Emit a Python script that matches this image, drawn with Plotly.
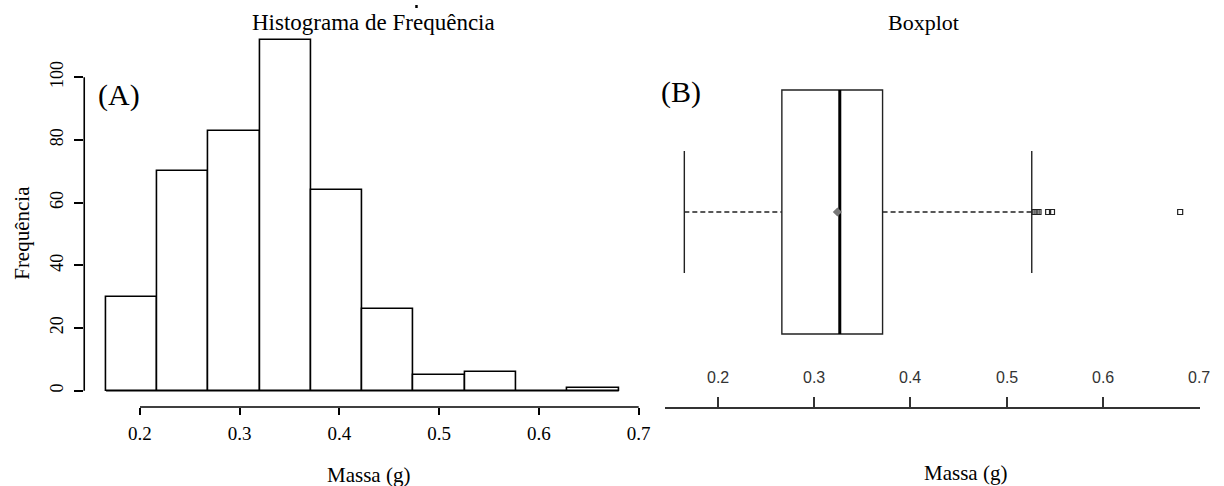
import plotly.graph_objects as go

# ---------------- data ----------------
bin_edges = [0.166, 0.2174, 0.2688, 0.3202, 0.3716, 0.423, 0.4744, 0.5258, 0.5772, 0.6286, 0.680]
bin_counts = [30, 70, 83, 112, 64, 26, 5, 6, 0, 1]

hist_xticks = [0.2, 0.3, 0.4, 0.5, 0.6, 0.7]
hist_xticklabels = ["0.2", "0.3", "0.4", "0.5", "0.6", "0.7"]
hist_yticks = [0, 20, 40, 60, 80, 100]
hist_yticklabels = ["0", "20", "40", "60", "80", "100"]

box_q1 = 0.2667
box_median = 0.3268
box_q3 = 0.3712
box_mean = 0.3243
box_lower_whisker = 0.1655
box_upper_whisker = 0.526
box_outliers = [0.529, 0.531, 0.533, 0.543, 0.547, 0.680]

box_xticks = [0.2, 0.3, 0.4, 0.5, 0.6, 0.7]
box_xticklabels = ["0.2", "0.3", "0.4", "0.5", "0.6", "0.7"]

# ---------------- figure ----------------
W, H = 1224, 486
def px(x):
    return x / W
def py(y):
    return 1 - y / H

SERIF = "Liberation Serif, Times New Roman, serif"
SANS = "Liberation Sans, Arial, sans-serif"

centers = [(a + b) / 2 for a, b in zip(bin_edges[:-1], bin_edges[1:])]
widths = [b - a for a, b in zip(bin_edges[:-1], bin_edges[1:])]

fig = go.Figure()
fig.add_trace(go.Bar(
    x=centers, y=bin_counts, width=widths,
    marker=dict(color="white", line=dict(color="black", width=1.6)),
    xaxis="x", yaxis="y", showlegend=False, hoverinfo="x+y",
))
# baseline of the histogram (bottom edges of all bins, incl. empty ones)
fig.add_trace(go.Scatter(
    x=[bin_edges[0], bin_edges[-1]], y=[0, 0], mode="lines",
    line=dict(color="black", width=1.6),
    xaxis="x", yaxis="y", showlegend=False, hoverinfo="skip",
))

BOX_POS = 1
fig.add_trace(go.Box(
    y=[BOX_POS], q1=[box_q1], median=[box_median], q3=[box_q3],
    lowerfence=[box_q1], upperfence=[box_q3],
    orientation="h", width=0.8, whiskerwidth=0, boxpoints=False,
    fillcolor="white", line=dict(color="#222222", width=1.4),
    xaxis="x2", yaxis="y2", showlegend=False,
))
# dashed whiskers
for a, b in [(box_lower_whisker, box_q1), (box_q3, box_upper_whisker)]:
    fig.add_trace(go.Scatter(
        x=[a, b], y=[BOX_POS, BOX_POS], mode="lines",
        line=dict(color="#222222", width=1.4, dash="5px,3px"),
        xaxis="x2", yaxis="y2", showlegend=False, hoverinfo="skip",
    ))
# whisker caps
for v in [box_lower_whisker, box_upper_whisker]:
    fig.add_trace(go.Scatter(
        x=[v, v], y=[BOX_POS - 0.2, BOX_POS + 0.2], mode="lines",
        line=dict(color="#222222", width=1.4),
        xaxis="x2", yaxis="y2", showlegend=False, hoverinfo="skip",
    ))
# thick median
fig.add_trace(go.Scatter(
    x=[box_median, box_median], y=[BOX_POS - 0.4, BOX_POS + 0.4], mode="lines",
    line=dict(color="black", width=3),
    xaxis="x2", yaxis="y2", showlegend=False, hoverinfo="skip",
))
# mean
fig.add_trace(go.Scatter(
    x=[box_mean], y=[BOX_POS], mode="markers",
    marker=dict(symbol="diamond", size=7, color="#777777"),
    xaxis="x2", yaxis="y2", showlegend=False,
))
# outliers
fig.add_trace(go.Scatter(
    x=box_outliers, y=[BOX_POS] * len(box_outliers), mode="markers",
    marker=dict(symbol="square-open", size=5, color="#222222", line=dict(width=1.2)),
    xaxis="x2", yaxis="y2", showlegend=False,
))

annotations = [
    dict(text="Histograma de Frequência", x=px(377), y=py(23), xref="paper", yref="paper",
         showarrow=False, xanchor="center", yanchor="middle",
         font=dict(family=SERIF, size=23, color="black")),
    dict(text="Boxplot", x=px(932), y=py(23), xref="paper", yref="paper",
         showarrow=False, xanchor="center", yanchor="middle",
         font=dict(family=SERIF, size=22, color="black")),
    dict(text="(A)", x=px(120), y=py(95), xref="paper", yref="paper",
         showarrow=False, xanchor="center", yanchor="middle",
         font=dict(family=SERIF, size=30, color="black")),
    dict(text="(B)", x=px(687.5), y=py(92), xref="paper", yref="paper",
         showarrow=False, xanchor="center", yanchor="middle",
         font=dict(family=SERIF, size=30, color="black")),
    dict(text="Massa (g)", x=px(372), y=py(475), xref="paper", yref="paper",
         showarrow=False, xanchor="center", yanchor="middle",
         font=dict(family=SERIF, size=21, color="black")),
    dict(text="Massa (g)", x=px(974), y=py(473), xref="paper", yref="paper",
         showarrow=False, xanchor="center", yanchor="middle",
         font=dict(family=SERIF, size=21, color="black")),
    dict(text="Frequência", x=px(22), y=py(233), xref="paper", yref="paper",
         showarrow=False, xanchor="center", yanchor="middle", textangle=-90,
         font=dict(family=SERIF, size=21, color="black")),
]
# tick labels of the boxplot axis, drawn above the axis line
for v, t in zip(box_xticks, box_xticklabels):
    annotations.append(dict(
        text=t, x=v, y=py(377), xref="x2", yref="paper",
        showarrow=False, xanchor="center", yanchor="middle",
        font=dict(family=SANS, size=16, color="#333333"),
    ))

fig.update_layout(
    width=W, height=H,
    margin=dict(l=0, r=0, t=0, b=0),
    paper_bgcolor="white", plot_bgcolor="white",
    showlegend=False,
    bargap=0,
    xaxis=dict(
        domain=[px(85), px(645)], range=[0.1441, 0.7005], anchor="y",
        tickvals=hist_xticks, ticktext=hist_xticklabels,
        ticks="outside", ticklen=7, tickwidth=1.5, tickcolor="black",
        showline=False, showgrid=False, zeroline=False,
        tickfont=dict(family=SERIF, size=19, color="black"),
        ticklabelstandoff=2,
    ),
    yaxis=dict(
        domain=[py(407), py(25)], range=[-5.2, 116.69], anchor="x",
        tickvals=hist_yticks, ticktext=hist_yticklabels,
        ticks="outside", ticklen=9, tickwidth=1.5, tickcolor="black",
        tickangle=-90,
        showline=False, showgrid=False, zeroline=False,
        tickfont=dict(family=SERIF, size=18, color="black"),
        ticklabelstandoff=4,
    ),
    xaxis2=dict(
        domain=[px(670.8), px(1211)], range=[0.1452, 0.7007], anchor="y2",
        tickvals=box_xticks, showticklabels=False,
        ticks="inside", ticklen=10, tickwidth=1.5, tickcolor="#333333",
        showline=True, linecolor="#333333", linewidth=1.5,
        showgrid=False, zeroline=False,
    ),
    yaxis2=dict(
        domain=[py(407), py(40)], range=[0.3607, 1.5639], anchor="x2",
        showticklabels=False, ticks="", showline=False,
        showgrid=False, zeroline=False,
    ),
    shapes=[
        dict(type="line", xref="x", yref="y domain",
             x0=hist_xticks[0], x1=hist_xticks[-1], y0=0, y1=0,
             line=dict(color="black", width=1.6)),
        dict(type="line", xref="x domain", yref="y",
             x0=0, x1=0, y0=hist_yticks[0], y1=hist_yticks[-1],
             line=dict(color="black", width=1.6)),
        dict(type="rect", xref="paper", yref="paper",
             x0=px(419), x1=px(421.5), y0=py(8), y1=py(5),
             fillcolor="black", line=dict(width=0)),
    ],
    annotations=annotations,
)

fig.write_html(
    "out.html",
    config={"displayModeBar": False},
    post_script="document.body.style.margin='0';document.body.style.padding='0';document.body.style.overflow='hidden';",
)
